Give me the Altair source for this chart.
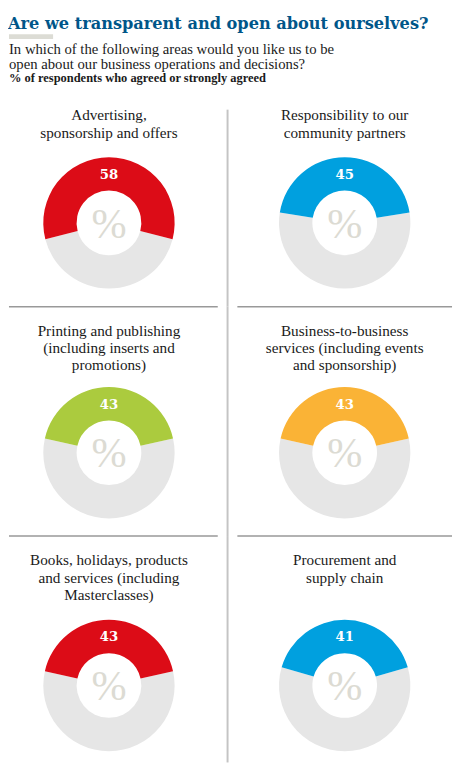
import math
import altair as alt
import pandas as pd

# survey results
categories = [
    "Advertising,\nsponsorship and offers",
    "Responsibility to our\ncommunity partners",
    "Printing and publishing\n(including  inserts and\npromotions)",
    "Business-to-business\nservices (including events\nand sponsorship)",
    "Books, holidays, products\nand services (including\nMasterclasses)",
    "Procurement and\nsupply chain",
]
values = [58, 45, 43, 43, 43, 41]
colours = ["#dc0c17", "#00a0df", "#abcb3e", "#fab336", "#dc0c17", "#00a0df"]

title = "Are we transparent and open about ourselves?"
question = [
    "In which of the following areas would you like us to be",
    "open about our business operations and decisions?",
]
note = "% of respondents who agreed or strongly agreed"

GREY = "#e6e6e6"
SERIF = "Liberation Serif"
SLAB = "DejaVu Serif"
LEFT_W, WIDTH = 223, 453

rows = []
for cat, v in zip(categories, values):
    rows.append({"category": cat, "part": "rest", "share": 100 - v, "o": 0})
    rows.append({"category": cat, "part": "agree", "share": v, "o": 1})
df = pd.DataFrame(rows)
one = pd.DataFrame({"k": [0]})


def rule(x, x2, y, y2=None, colour="#999999", width=1.5):
    enc = dict(x=alt.value(x), x2=alt.value(x2), y=alt.value(y))
    if y2 is not None:
        enc["y2"] = alt.value(y2)
    return alt.Chart(one).mark_rule(color=colour, strokeWidth=width).encode(**enc)


def donut(i, cx, title_y, cy):
    v = values[i]
    start = math.pi * v / 100
    d = df[df.category == categories[i]]
    base = alt.Chart(d).transform_calculate(
        label="datum.part == 'agree' ? datum.share : ''"
    )
    theta = alt.Theta("share:Q", stack=True,
                      scale=alt.Scale(domain=[0, 100], range=[start, start + 2 * math.pi]))
    ring = base.mark_arc(radius=67, radius2=33).encode(
        theta=theta,
        color=alt.Color("part:N", scale=alt.Scale(domain=["agree", "rest"],
                                                  range=[colours[i], GREY]), legend=None),
        order=alt.Order("o:Q"),
        x=alt.value(cx), y=alt.value(cy),
    )
    label = base.mark_text(radius=49, font=SLAB, fontWeight="bold",
                           fontSize=13.5, color="white", baseline="middle").encode(
        theta=theta, order=alt.Order("o:Q"), text="label:N",
        x=alt.value(cx), y=alt.value(cy),
    )
    agree = base.transform_filter(alt.datum.part == "agree")
    pct = agree.mark_text(text="%", font=SERIF, fontSize=43, color="#dcdbd3",
                          baseline="middle").encode(x=alt.value(cx), y=alt.value(cy + 2))
    head = agree.mark_text(font=SERIF, fontSize=15.5, color="#1a1a1a", lineBreak="\n",
                           lineHeight=17.5, align="center", baseline="alphabetic").encode(
        text="category:N", x=alt.value(cx), y=alt.value(title_y))
    return [ring, label, pct, head]


def row(i, height, title_y, cy, sep, vline_top=0):
    layers = donut(i, 102, title_y, cy) + donut(i + 1, 342.5, title_y, cy)
    if sep:
        layers += [rule(0, 213, 0), rule(233, 452, 0)]
    layers.append(rule(LEFT_W, LEFT_W, vline_top, height, "#c4c4c4", 2))
    return alt.layer(*layers).resolve_scale(
        color="independent", theta="independent"
    ).properties(width=WIDTH, height=height)


header = alt.layer(
    alt.Chart(one).mark_text(text=title, font=SLAB, fontWeight="bold", fontSize=16.5,
                             color="#005689", align="left", baseline="alphabetic").encode(
        x=alt.value(-1), y=alt.value(14)),
    alt.Chart(one).mark_rect(color="#dcdcd5").encode(
        x=alt.value(0), x2=alt.value(45), y=alt.value(19), y2=alt.value(24)),
    alt.Chart(one).mark_text(text=question, font=SERIF, fontSize=15, color="#1a1a1a",
                             align="left", baseline="alphabetic", lineHeight=15.5).encode(
        x=alt.value(0), y=alt.value(39)),
    alt.Chart(one).mark_text(text=note, font=SERIF, fontWeight="bold", fontSize=12.7,
                             color="#1a1a1a", align="left", baseline="alphabetic").encode(
        x=alt.value(0), y=alt.value(68)),
).properties(width=WIDTH, height=82)

chart = alt.vconcat(
    header,
    row(0, 215, 25, 129.5, False, 14),
    row(2, 234, 30, 149, True),
    row(4, 231, 30, 152.5, True),
    spacing=0, bounds="flush",
).properties(padding=0).configure_view(stroke=None)

chart.save("out.html", embed_options={"renderer": "svg", "actions": False})
